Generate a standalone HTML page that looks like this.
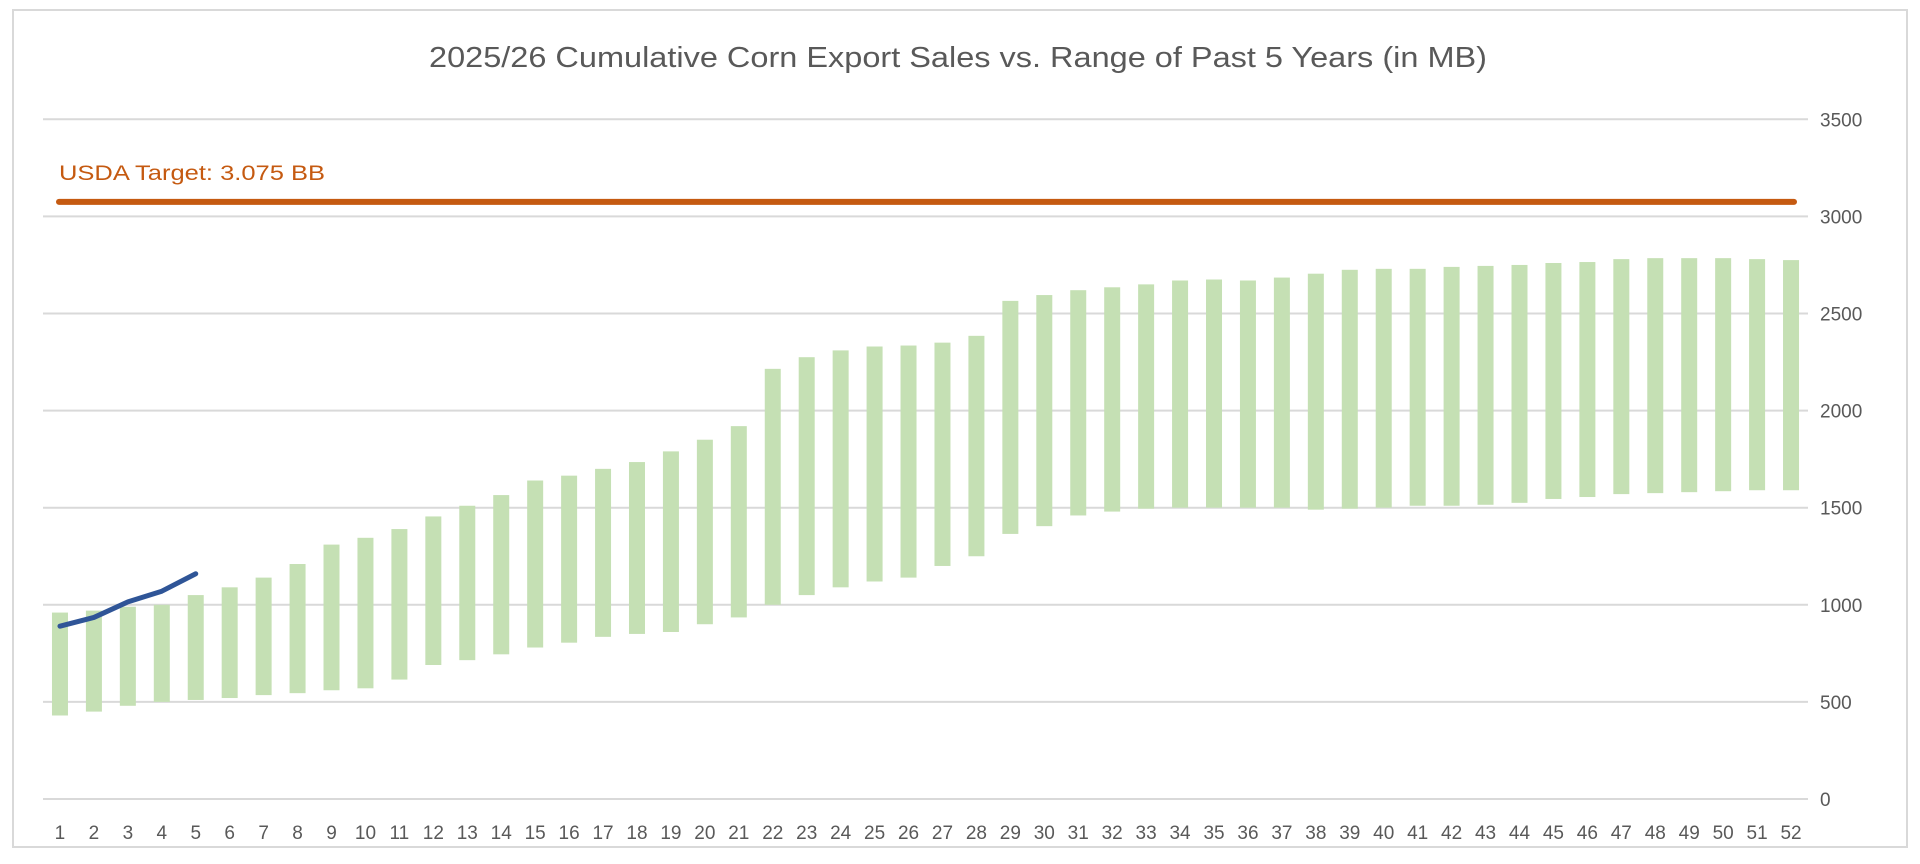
<!DOCTYPE html>
<html><head><meta charset="utf-8"><style>
html,body{margin:0;padding:0;background:#fff;}
svg{display:block;font-family:"Liberation Sans",sans-serif;}
</style></head><body>
<svg id="c" width="1920" height="864" xmlns="http://www.w3.org/2000/svg">
<rect x="13" y="10" width="1894" height="837" fill="#fff" stroke="#d9d9d9" stroke-width="2"/>
<text x="958" y="67" text-anchor="middle" font-size="29" fill="#595959" textLength="1058" lengthAdjust="spacingAndGlyphs">2025/26 Cumulative Corn Export Sales vs. Range of Past 5 Years (in MB)</text>
<g id="g"></g>
<text x="59" y="180" font-size="21" fill="#c55a11" textLength="266" lengthAdjust="spacingAndGlyphs">USDA Target: 3.075 BB</text>
</svg>
<script>
var g=document.getElementById('g'),s='';
function Y(v){return 799-v*0.1942;}
for(var i=0;i<=7;i++){var y=Y(i*500);s+='<line x1="43" x2="1808" y1="'+y+'" y2="'+y+'" stroke="#d9d9d9" stroke-width="2"/>';s+='<text x="1820" y="'+(y+7)+'" font-size="19" fill="#595959">'+(i*500)+'</text>';}
var d=[[430,960],[450,970],[480,990],[500,1000],[510,1050],[520,1090],[535,1140],[545,1210],[560,1310],[570,1345],[615,1390],[690,1455],[715,1510],[745,1565],[780,1640],[805,1665],[835,1700],[850,1735],[860,1790],[900,1850],[935,1920],[1000,2215],[1050,2275],[1090,2310],[1120,2330],[1140,2335],[1200,2350],[1250,2385],[1365,2565],[1405,2595],[1460,2620],[1480,2635],[1495,2650],[1500,2670],[1500,2675],[1500,2670],[1500,2685],[1490,2705],[1495,2725],[1500,2730],[1510,2730],[1510,2740],[1515,2745],[1525,2750],[1545,2760],[1555,2765],[1570,2780],[1575,2785],[1580,2785],[1585,2785],[1590,2780],[1590,2775]];
var w=(1808-43)/52;
for(var i=0;i<52;i++){var cx=43+w*(i+0.5);s+='<rect x="'+(cx-8)+'" y="'+Y(d[i][1])+'" width="16" height="'+(Y(d[i][0])-Y(d[i][1]))+'" fill="#c5e0b4"/>';s+='<text x="'+cx+'" y="839" text-anchor="middle" font-size="19" fill="#595959">'+(i+1)+'</text>';}
s+='<line x1="59" x2="1794" y1="'+Y(3075)+'" y2="'+Y(3075)+'" stroke="#c55a11" stroke-width="6" stroke-linecap="round"/>';
var l=[890,935,1015,1070,1160],p='';
for(var i=0;i<5;i++){p+=(i?'L':'M')+(43+w*(i+0.5))+' '+Y(l[i]);}
s+='<path d="'+p+'" fill="none" stroke="#2f5597" stroke-width="5" stroke-linecap="round" stroke-linejoin="round"/>';
g.innerHTML=s;
</script>
</body></html>
